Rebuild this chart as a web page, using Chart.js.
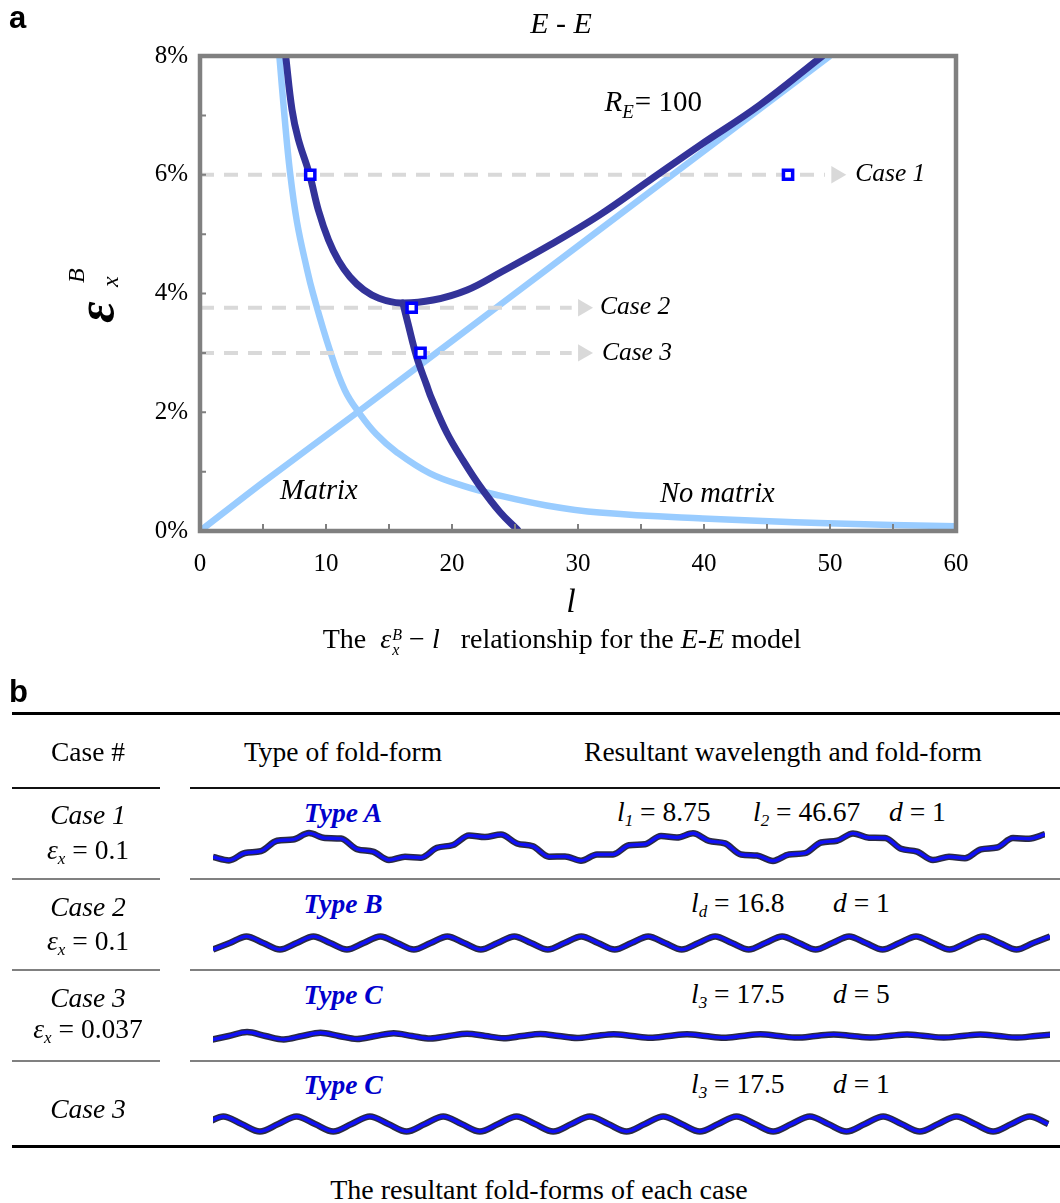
<!DOCTYPE html>
<html><head><meta charset="utf-8">
<script src="https://cdn.jsdelivr.net/npm/chart.js@4.4.1/dist/chart.umd.min.js"></script>
<style>
html,body{margin:0;padding:0;background:#fff;}
#page{position:relative;width:1060px;height:1203px;overflow:hidden;font-family:"Liberation Serif","Times New Roman",Times,serif;color:#000;}
#chartA{position:absolute;left:0;top:0;}
.t{position:absolute;white-space:nowrap;transform:translate(-50%,-50%);font-size:27.5px;line-height:1;}
.tl{position:absolute;white-space:nowrap;transform:translate(0,-50%);font-size:27.5px;line-height:1;}
.rule{position:absolute;height:2px;background:#111;}
.g{background:#808080;}
.wave{position:absolute;}
.sb{font-size:0.62em;position:relative;top:0.3em;font-style:italic;}
.blue{color:#0000CC;font-weight:bold;font-style:italic;}
.ss{display:inline-block;vertical-align:middle;font-size:16px;line-height:15px;font-style:italic;text-align:left;margin-left:1px;}
</style></head>
<body><div id="page">
<canvas id="chartA" width="1060" height="680"></canvas>

<div class="t" style="left:562px;top:641px;font-size:28px;">The&nbsp; <i>ε</i><span class="ss">B<br>x</span> − <i>l</i>&nbsp;&nbsp; relationship for the <i>E</i>-<i>E</i> model</div>

<div class="tl" style="left:9px;top:692px;font:bold 31px 'Liberation Sans',Arial,sans-serif;">b</div>
<div class="rule" style="left:12px;top:712px;width:1048px;height:2.5px;background:#000"></div>
<div class="t" style="left:88px;top:752px">Case #</div>
<div class="t" style="left:343px;top:752px">Type of fold-form</div>
<div class="t" style="left:783px;top:752px">Resultant wavelength and fold-form</div>
<div class="rule" style="left:12px;top:787px;width:148px"></div>
<div class="rule" style="left:190px;top:787px;width:870px"></div>

<div class="t" style="left:88px;top:815px"><i>Case 1</i></div>
<div class="t" style="left:88px;top:850px"><i>ε</i><span class="sb">x</span> = 0.1</div>
<div class="t blue" style="left:343px;top:813px">Type A</div>
<div class="tl" style="left:617px;top:812px"><i>l</i><span class="sb">1</span> = 8.75</div>
<div class="tl" style="left:753px;top:812px"><i>l</i><span class="sb">2</span> = 46.67</div>
<div class="tl" style="left:889px;top:812px"><i>d</i> = 1</div>
<div class="rule g" style="left:12px;top:878px;width:148px"></div>
<div class="rule g" style="left:190px;top:878px;width:870px"></div>

<div class="t" style="left:88px;top:907px"><i>Case 2</i></div>
<div class="t" style="left:88px;top:941px"><i>ε</i><span class="sb">x</span> = 0.1</div>
<div class="t blue" style="left:343px;top:904px">Type B</div>
<div class="tl" style="left:691px;top:903px"><i>l</i><span class="sb">d</span> = 16.8</div>
<div class="tl" style="left:833px;top:903px"><i>d</i> = 1</div>
<div class="rule g" style="left:12px;top:969px;width:148px"></div>
<div class="rule g" style="left:190px;top:969px;width:870px"></div>

<div class="t" style="left:88px;top:998px"><i>Case 3</i></div>
<div class="t" style="left:88px;top:1029px"><i>ε</i><span class="sb">x</span> = 0.037</div>
<div class="t blue" style="left:343px;top:995px">Type C</div>
<div class="tl" style="left:691px;top:994px"><i>l</i><span class="sb">3</span> = 17.5</div>
<div class="tl" style="left:833px;top:994px"><i>d</i> = 5</div>
<div class="rule g" style="left:12px;top:1060px;width:148px"></div>
<div class="rule g" style="left:190px;top:1060px;width:870px"></div>

<div class="t" style="left:88px;top:1109px"><i>Case 3</i></div>
<div class="t blue" style="left:343px;top:1085px">Type C</div>
<div class="tl" style="left:691px;top:1084px"><i>l</i><span class="sb">3</span> = 17.5</div>
<div class="tl" style="left:833px;top:1084px"><i>d</i> = 1</div>
<div class="rule" style="left:12px;top:1145px;width:1048px;height:2.5px;background:#000"></div>

<div class="t" style="left:539px;top:1190px;font-size:28px">The resultant fold-forms of each case</div>

<canvas id="w1" class="wave" width="832" height="40" style="left:213px;top:827px"></canvas>
<canvas id="w2" class="wave" width="837" height="40" style="left:213px;top:923px"></canvas>
<canvas id="w3" class="wave" width="837" height="40" style="left:213px;top:1016px"></canvas>
<canvas id="w4" class="wave" width="837" height="40" style="left:213px;top:1104px"></canvas>
</div>
<script>
// ---------- data: panel a ----------
const xTickValues = [0, 10, 20, 30, 40, 50, 60];
const yTickLabels = ['0%', '2%', '4%', '6%', '8%'];

const lightRiseL = [0, 5, 12.5, 25, 37.5, 50];
const lightRiseE = [0, 0.82, 2.0, 4.0, 6.0, 8.0];

const lightFallL = [6.3, 6.7, 7.14, 7.7, 8.5, 8.97, 10.3, 11.5, 12.7, 14.0, 15.6, 18.25, 20.9, 23.5, 27.5, 31.7, 39.9, 49.8, 60];
const lightFallE = [8.0, 7.0, 6.05, 5.2, 4.4, 4.0, 3.05, 2.37, 1.97, 1.63, 1.33, 0.97, 0.76, 0.61, 0.43, 0.31, 0.21, 0.13, 0.08];

const darkUL = [6.8, 7.3, 7.8, 8.7, 9.4, 10.2, 11.0, 11.9, 13.0, 14.2, 15.9, 18.5, 21.2, 23.8, 27.8, 31.7, 35.7, 39.7, 44.4, 49.4];
const darkUE = [8.0, 7.1, 6.6, 6.0, 5.4, 4.9, 4.55, 4.28, 4.06, 3.92, 3.84, 3.89, 4.06, 4.35, 4.82, 5.32, 5.91, 6.5, 7.17, 8.0];

const darkLowL = [16.1, 16.5, 17.2, 18.0, 18.4, 19.6, 20.9, 22.2, 23.8, 25.2];
const darkLowE = [3.84, 3.5, 2.93, 2.45, 2.22, 1.65, 1.18, 0.76, 0.32, 0.02];

const caseNames = ['Case 1', 'Case 2', 'Case 3'];
const caseE = [6.0, 3.76, 3.0];
const caseLineEnd = [49.6, 29.5, 29.5];
const caseArrowL = [50.5, 30.4, 30.4];
const caseLabelL = [52.0, 31.75, 31.9];

const markerL = [8.75, 46.67, 16.8, 17.5];
const markerE = [6.0, 6.0, 3.76, 3.0];

const noteText = ['Matrix', 'No matrix'];
const noteL = [6.35, 36.5];
const noteE = [0.66, 0.62];
const reLabelL = 32.1, reLabelE = 7.2;

// ---------- data: panel b (fold-form deflections) ----------
const waveA = [-10, -13.4, -6, -4.2, 6.2, 7.4, 13.9, 8.9, 8.4, -2.2, -4.7, -13.1, -9.8, -10.7, -0.8, 2, 11.6, 10, 12.5, 3.5, 0.7, -9.7, -9.5, -13.7, -7.5, -7.4, 1.7, 2.8, 11, 9.5, 13.7, 6.1, 3.6, -7.5, -8.6, -13.9, -7.5, -6.1, 4.5, 6.3, 13.6, 9.3, 9, -1.8, -4.6, -13.1, -9.8, -11.2, -2.3, -0.5, 8.9, 8.3, 12.8];
const waveB = [-6.6,0,6.6,0,-6.6,0,6.6,0,-6.6,0,6.6,0,-6.6,0,6.6,0,-6.6,0,6.6,0,-6.6,0,6.6,0,-6.6,0,6.6,0,-6.6,0,6.6,0,-6.6,0,6.6,0,-6.6,0,6.6,0,-6.6,0,6.6,0,-6.6,0,6.6,0,-6.6,0,6.6];
const waveC5 = [-4,0,4,0,-3.5,0,3.2,0,-3,0,2.8,0,-2.5,0,2.3,0,-2.2,0,2,0,-2,0,1.8,0,-1.8,0,1.8,0,-1.7,0,1.7,0,-1.6,0,1.6,0,-1.5,0,1.5,0,-1.5,0,1.5,0,-1.5,0,1.5];
const waveC1 = [0,7.5,0,-7.5,0,7.5,0,-7.5,0,7.5,0,-7.5,0,7.5,0,-7.5,0,7.5,0,-7.5,0,7.5,0,-7.5,0,7.5,0,-7.5,0,7.5,0,-7.5,0,7.5,0,-7.5,0,7.5,0,-7.5,0,7.5,0,-7.5,0,7.5,0];

// ---------- panel a ----------
const serif = '"Liberation Serif","Times New Roman",Times,serif';
const pts = (xs, ys) => xs.map((x, i) => ({x, y: ys[i]}));
function txt(ctx, s, x, y, font, align, base, color) {
  ctx.font = font; ctx.textAlign = align || 'left'; ctx.textBaseline = base || 'middle';
  ctx.fillStyle = color || '#000'; ctx.fillText(s, x, y);
}

const datasets = [
  {data: pts(lightRiseL, lightRiseE), borderColor: '#99CCFF', borderWidth: 6.5, pointRadius: 0, order: 6, tension: 0.3},
  {data: pts(lightFallL, lightFallE), borderColor: '#99CCFF', borderWidth: 6.5, pointRadius: 0, order: 6, tension: 0.4},
];
caseE.forEach((e, i) => {
  datasets.push({data: [{x: 0, y: e}, {x: caseLineEnd[i], y: e}], borderColor: '#D9D9D9', borderWidth: 4,
    borderDash: [14, 10], pointRadius: 0, order: 5});
});
datasets.push({data: caseE.map((e, i) => ({x: caseArrowL[i], y: e})), showLine: false, pointStyle: 'triangle',
  rotation: 90, pointRadius: 10, backgroundColor: '#D9D9D9', borderColor: '#D9D9D9', borderWidth: 0, order: 5});
datasets.push({data: pts(darkUL, darkUE), borderColor: '#333399', borderWidth: 7, pointRadius: 0, order: 3,
  tension: 0.4, borderCapStyle: 'round'});
datasets.push({data: pts(darkLowL, darkLowE), borderColor: '#333399', borderWidth: 7, pointRadius: 0, order: 3,
  tension: 0.4, borderCapStyle: 'round'});
datasets.push({data: pts(markerL, markerE), showLine: false, pointStyle: 'rect', pointRadius: 6.5,
  backgroundColor: '#ffffff', borderColor: '#0000FF', borderWidth: 3.5, order: 1});

const decor = {
  id: 'decor',
  afterDatasetsDraw(chart) {
    const ctx = chart.ctx, a = chart.chartArea, xs = chart.scales.x, ys = chart.scales.y;
    ctx.save();
    ctx.strokeStyle = '#808080'; ctx.lineWidth = 4.5;
    ctx.strokeRect(a.left, a.top, a.right - a.left, a.bottom - a.top);
    ctx.lineWidth = 2;
    ctx.beginPath();
    xs.ticks.forEach(t => { const p = xs.getPixelForValue(t.value); ctx.moveTo(p, a.bottom); ctx.lineTo(p, a.bottom - 7); });
    ys.ticks.forEach(t => { const p = ys.getPixelForValue(t.value); ctx.moveTo(a.left, p); ctx.lineTo(a.left + 6, p); });
    ctx.stroke();
    caseNames.forEach((n, i) => txt(ctx, n, xs.getPixelForValue(caseLabelL[i]), ys.getPixelForValue(caseE[i]), 'italic 25.5px ' + serif));
    noteText.forEach((n, i) => txt(ctx, n, xs.getPixelForValue(noteL[i]), ys.getPixelForValue(noteE[i]), 'italic 28.5px ' + serif));
    let rx = xs.getPixelForValue(reLabelL), ry = ys.getPixelForValue(reLabelE);
    txt(ctx, 'R', rx, ry, 'italic 29px ' + serif);
    ctx.font = 'italic 29px ' + serif; let w = ctx.measureText('R').width;
    txt(ctx, 'E', rx + w, ry + 9, 'italic 19px ' + serif);
    ctx.font = 'italic 19px ' + serif; w += ctx.measureText('E').width;
    txt(ctx, '= 100', rx + w + 1, ry, '29px ' + serif);
    txt(ctx, 'E - E', 561, 25, 'italic 30px ' + serif, 'center');
    txt(ctx, 'a', 9, 19, 'bold 31px "Liberation Sans",Arial,sans-serif');
    txt(ctx, 'l', 571, 603, 'italic 34px ' + serif, 'center');
    ctx.translate(100, 300); ctx.rotate(-Math.PI / 2);
    txt(ctx, 'ε', -12, 0, 'bold italic 52px ' + serif, 'center');
    txt(ctx, 'B', 17, -22, 'italic 24px ' + serif);
    txt(ctx, 'x', 13, 12, 'italic 24px ' + serif);
    ctx.restore();
  }
};

new Chart(document.getElementById('chartA'), {
  type: 'line',
  data: {datasets},
  options: {
    responsive: false, animation: false, events: [],
    layout: {padding: {top: 56, right: 104, left: 0, bottom: 0}},
    plugins: {legend: {display: false}, tooltip: {enabled: false}},
    scales: {
      x: {type: 'linear', min: 0, max: 60,
        afterFit(s) { s.height = 680 - 531; },
        grid: {display: false, drawTicks: false}, border: {display: false},
        ticks: {stepSize: 5, autoSkip: false, maxRotation: 0, padding: 18, color: '#000',
          font: {family: serif, size: 25},
          callback: v => xTickValues.includes(v) ? String(v) : ''}},
      y: {type: 'linear', min: 0, max: 8,
        afterFit(s) { s.width = 200; },
        grid: {display: false, drawTicks: false}, border: {display: false},
        ticks: {stepSize: 1, autoSkip: false, padding: 12, color: '#000',
          font: {family: serif, size: 25},
          callback: v => (v % 2 === 0 ? yTickLabels[v / 2] : '')}}
    }
  },
  plugins: [decor]
});

// ---------- panel b: fold-forms ----------
function waveChart(id, vals, xmin, xmax) {
  const data = vals.map((v, i) => ({x: i, y: v}));
  new Chart(document.getElementById(id), {
    type: 'line',
    data: {datasets: [
      {data, borderColor: '#2b2b40', borderWidth: 6.5, pointRadius: 0, cubicInterpolationMode: 'monotone', clip: false, order: 2},
      {data, borderColor: '#1010F5', borderWidth: 3.4, pointRadius: 0, cubicInterpolationMode: 'monotone', clip: false, order: 1}
    ]},
    options: {
      responsive: false, animation: false, events: [],
      layout: {padding: 0},
      plugins: {legend: {display: false}, tooltip: {enabled: false}},
      scales: {x: {type: 'linear', display: false, min: xmin, max: xmax},
               y: {type: 'linear', display: false, min: -20, max: 20}}
    }
  });
}
waveChart('w1', waveA, 0, waveA.length - 1);
waveChart('w2', waveB, 0, waveB.length - 1);
waveChart('w3', waveC5, 0.14, 45.8);
waveChart('w4', waveC1, 0.44, 46.1);
</script>
</body></html>
